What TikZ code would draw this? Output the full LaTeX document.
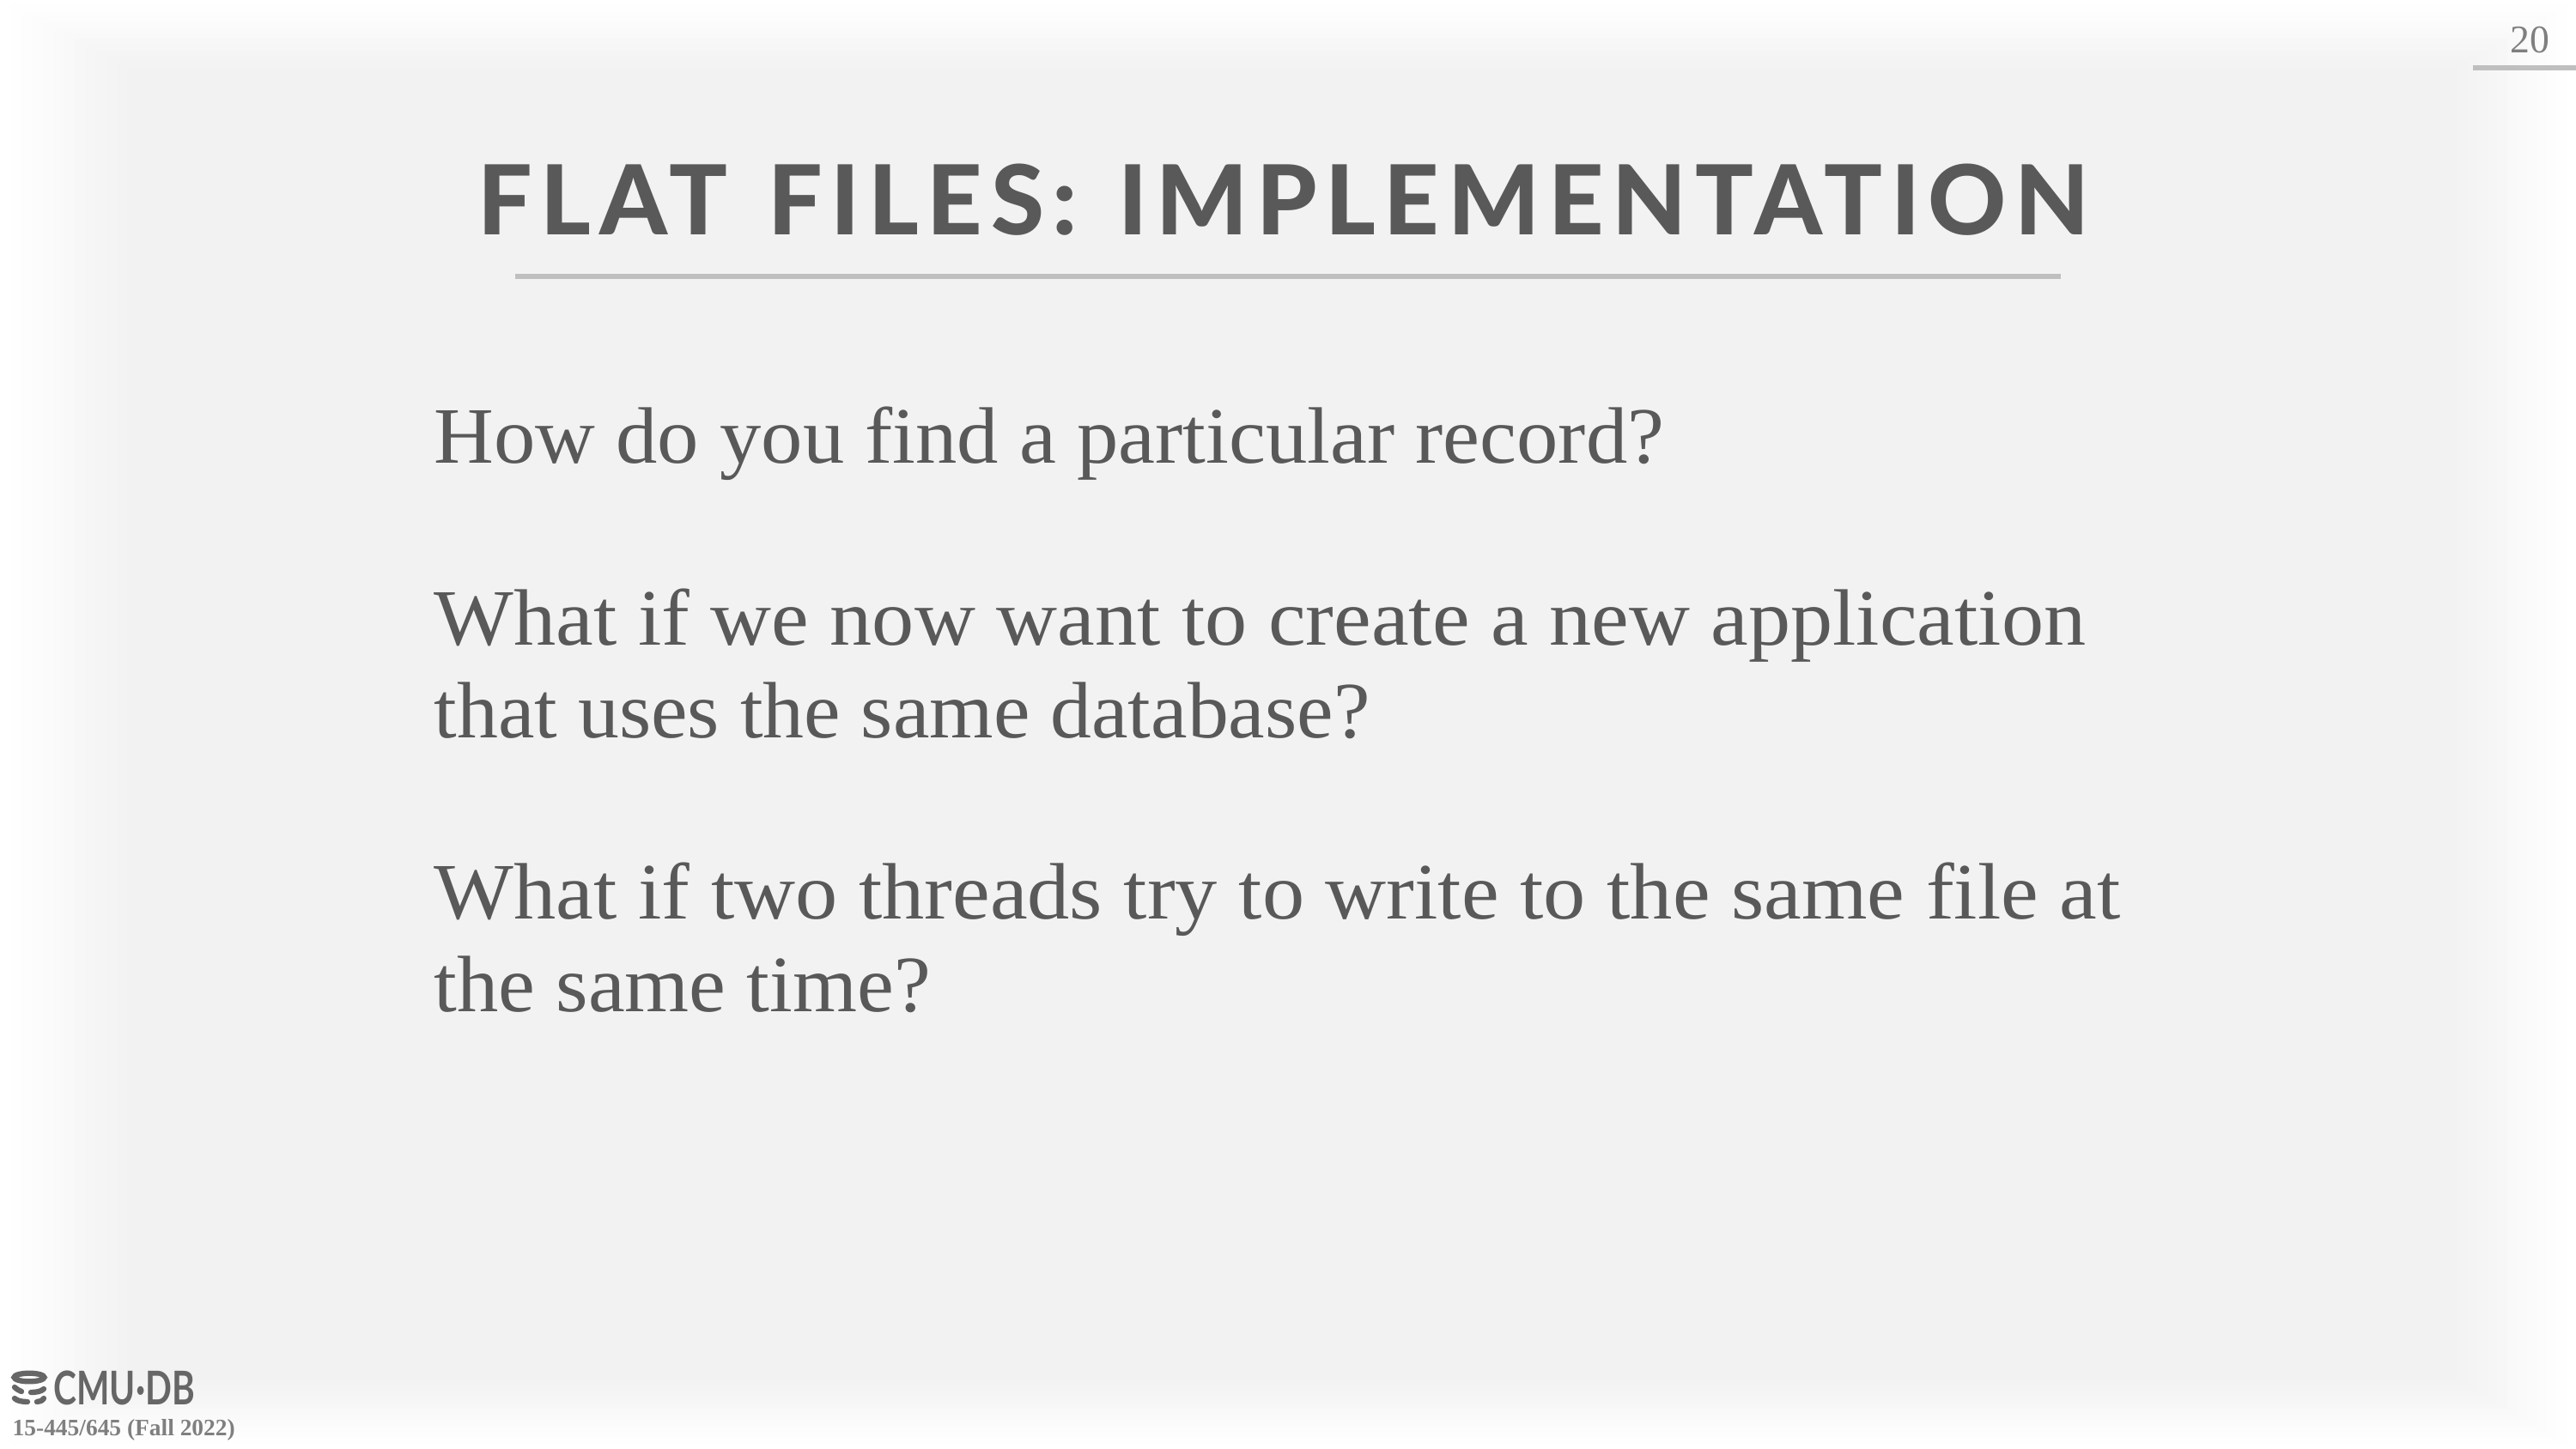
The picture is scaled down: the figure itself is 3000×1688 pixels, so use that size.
\documentclass[tikz,border=0pt]{standalone}
\usepackage{graphicx}
\usepackage{fontspec}
\setmainfont[FakeStretch=1.045]{Liberation Serif}
\newfontfamily\coursefont{Liberation Serif}
\newfontfamily\titlefont[LetterSpace=8.6,WordSpace=1.3,Ligatures=NoCommon]{Lato Heavy}
\newfontfamily\logofont[FakeStretch=0.75]{Lato Bold}
\definecolor{bgc}{HTML}{F2F2F2}
\definecolor{titlec}{HTML}{595959}
\definecolor{bodyc}{HTML}{595959}
\definecolor{rulec}{HTML}{BFBFBF}
\definecolor{numc}{HTML}{7F7F7F}
\definecolor{logoc}{HTML}{666666}
\tikzset{
  bodytext/.style={anchor=base west,inner sep=0pt,text=bodyc,font=\fontsize{26.5pt}{31pt}\selectfont},
  ruleline/.style={draw=rulec,line width=1.7pt},
  logoband/.style={draw=logoc,line width=1.8pt,line cap=round},
}
\begin{document}
\begin{tikzpicture}[x=0.01cm,y=-0.01cm]
\useasboundingbox (0,0) rectangle (3000,1688);
\fill[white] (0,0) rectangle (3000,1688);
\foreach \i in {1,...,12}{
  \pgfmathsetmacro{\p}{100*\i/12}
  \fill[bgc!\p!white] ({\i*148/12},{\i*78/12}) rectangle ({3000-\i*137/12},{1688-\i*80/12});
}
\node[anchor=base west,inner sep=0pt,text=titlec,font=\fontsize{32pt}{36pt}\titlefont] (title) at (556,273) {FLAT FILES: IMPLEMENTATION};
\draw[ruleline] (600,322) -- (2400,322);
\node[anchor=base east,inner sep=0pt,text=numc,font=\fontsize{13pt}{15pt}\coursefont] (num) at (2970,62) {20};
\draw[ruleline] (2880,79) -- (3000,79);
\node[bodytext] (l1) at (505,539) {\scalebox{0.992}[1]{How do you find a particular record?}};
\node[bodytext] (l2) at (505,751) {\scalebox{1.009}[1]{What if we now want to create a new application}};
\node[bodytext] (l3) at (505,859) {\scalebox{0.983}[1]{that uses the same database?}};
\node[bodytext] (l4) at (505,1070) {\scalebox{1.01}[1]{What if two threads try to write to the same file at}};
\node[bodytext] (l5) at (505,1178) {\scalebox{0.99}[1]{the same time?}};
% logo
\draw[logoband] (34,1604.5) ellipse [x radius=17.5, y radius=4.8];
\draw[logoband] (17,1616) .. controls (19,1618) and (22,1620) .. (25,1621);
\draw[logoband] (36,1622) .. controls (42,1622) and (48,1621) .. (51,1618);
\draw[logoband] (17,1629) .. controls (20,1632) and (26,1633) .. (32,1633);
\draw[logoband] (43,1633) .. controls (46,1633) and (49,1632) .. (51,1629);
\node[anchor=base west,inner sep=0pt,text=logoc,font=\fontsize{15.4pt}{17pt}\logofont] (logo) at (62,1636) {CMU·DB};
\node[anchor=base west,inner sep=0pt,text=numc,font=\fontsize{7.8pt}{9pt}\coursefont\bfseries] (course) at (14,1672) {15-445/645 (Fall 2022)};
\end{tikzpicture}
\end{document}
